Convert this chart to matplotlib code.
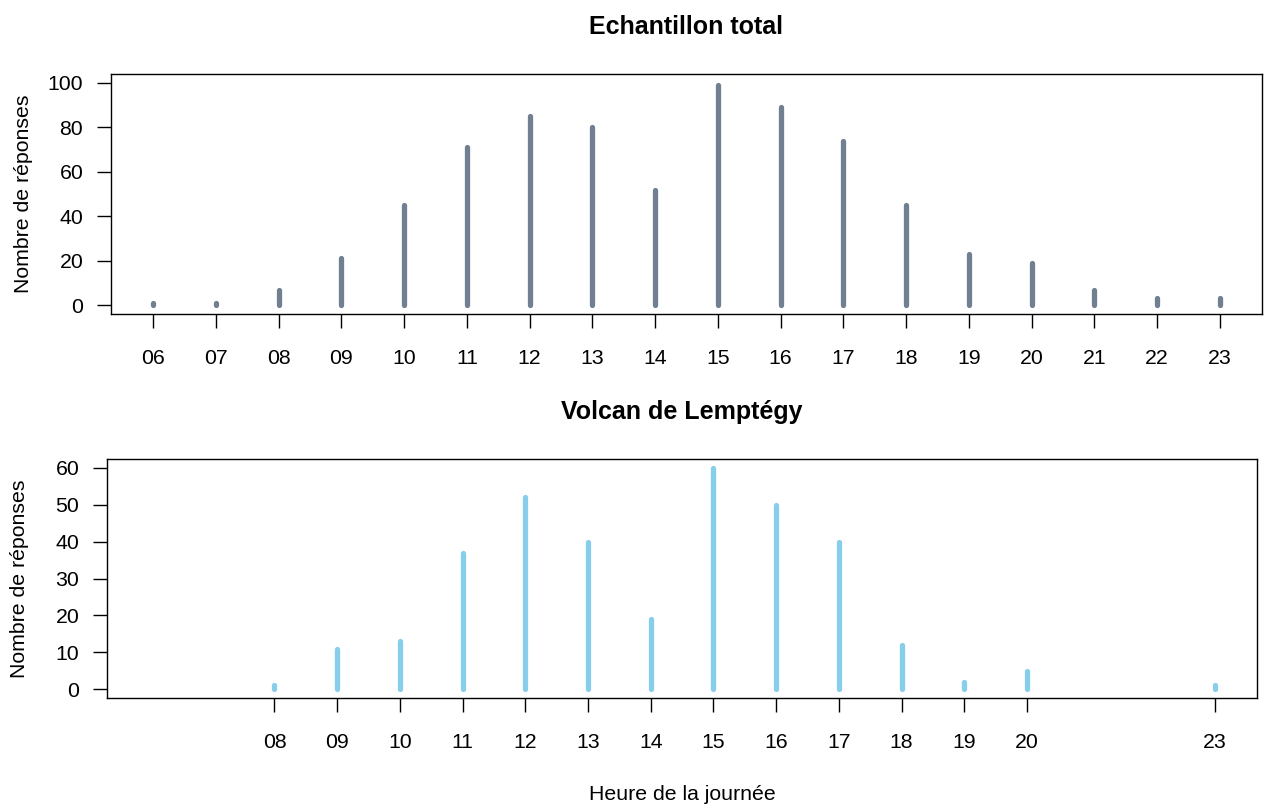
import matplotlib
matplotlib.use("Agg")
import matplotlib.pyplot as plt

# Données
heures_total = [6, 7, 8, 9, 10, 11, 12, 13, 14, 15, 16, 17, 18, 19, 20, 21, 22, 23]
reponses_total = [1, 1, 7, 21, 45, 71, 85, 80, 52, 99, 89, 74, 45, 23, 19, 7, 3, 3]

heures_volcan = [8, 9, 10, 11, 12, 13, 14, 15, 16, 17, 18, 19, 20, 23]
reponses_volcan = [1, 11, 13, 37, 52, 40, 19, 60, 50, 40, 12, 2, 5, 1]

plt.rcParams['font.family'] = ['Liberation Sans', 'DejaVu Sans']
base = 15.3

fig = plt.figure(figsize=(12.64, 8.09), dpi=100)


def panneau(rect, heures, valeurs, couleur, titre, ymax, yticks, xlab):
    ax = fig.add_axes(rect)
    lc = ax.vlines(heures, 0, valeurs, colors=couleur, linewidth=3.8)
    lc.set_capstyle('round')
    ax.set_xlim(5.33, 23.67)
    ax.set_ylim(-0.04 * ymax, 1.04 * ymax)
    ax.set_xticks(heures)
    ax.set_xticklabels([f"{h:02d}" for h in heures])
    ax.set_yticks(yticks)
    ax.tick_params(axis='x', length=10, width=1, pad=15, labelsize=base)
    ax.tick_params(axis='y', length=10, width=1, pad=10, labelsize=base)
    for s in ax.spines.values():
        s.set_linewidth(1.0)
    ax.set_title(titre, fontsize=18, fontweight='bold', pad=29)
    ax.set_ylabel("Nombre de réponses", fontsize=base)
    ax.yaxis.set_label_coords(xlab, 0.5)
    return ax


ax1 = panneau([0.0878, 0.6119, 0.9106, 0.2967], heures_total, reponses_total,
              '#708090', "Echantillon total", 100, [0, 20, 40, 60, 80, 100], -0.068)
ax2 = panneau([0.0847, 0.1372, 0.9098, 0.2954], heures_volcan, reponses_volcan,
              '#87CEEB', "Volcan de Lemptégy", 60, [0, 10, 20, 30, 40, 50, 60], -0.068)
ax2.set_xlabel("Heure de la journée", fontsize=base, labelpad=24)

fig.savefig("out.png", dpi=100)
